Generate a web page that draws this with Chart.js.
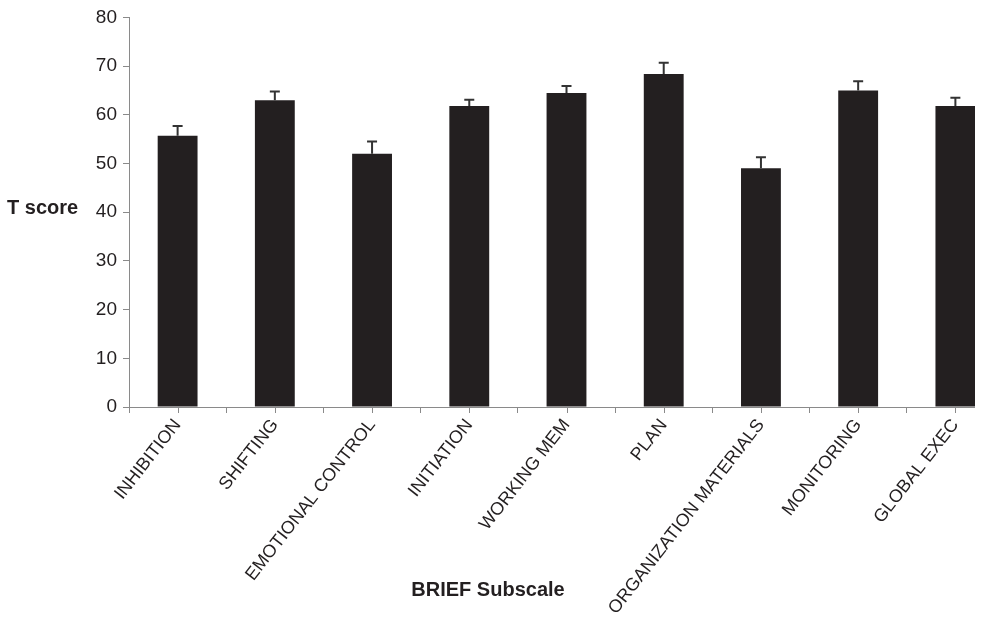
<!DOCTYPE html>
<html><head><meta charset="utf-8">
<script src="https://cdn.jsdelivr.net/npm/chart.js@4.4.1/dist/chart.umd.min.js"></script>
<style>
html,body{margin:0;padding:0;background:#fff;overflow:hidden;}
#wrap{position:absolute;left:0;top:0;width:975px;height:619px;overflow:hidden;background:#fff;}
canvas{display:block;}
</style></head><body>
<div id="wrap"><canvas id="c" width="1004" height="619"></canvas></div>
<script>
const categories = ['INHIBITION','SHIFTING','EMOTIONAL CONTROL','INITIATION','WORKING MEM','PLAN','ORGANIZATION MATERIALS','MONITORING','GLOBAL EXEC'];
const tScores = [55.7, 63.0, 52.0, 61.8, 64.5, 68.4, 49.0, 65.0, 61.8];
const errorUp = [2.0, 1.8, 2.5, 1.3, 1.4, 2.3, 2.3, 1.9, 1.7];
const yTickValues = [0, 10, 20, 30, 40, 50, 60, 70, 80];
const yTitle = 'T score';
const xTitle = 'BRIEF Subscale';

const TEXT = '#231f20';
const AXIS = '#8a8a8a';
const FONT = "'Liberation Sans', Arial, sans-serif";

const errorBarPlugin = {
  id: 'errorBars',
  afterDatasetsDraw(chart) {
    const ctx = chart.ctx, y = chart.scales.y;
    const meta = chart.getDatasetMeta(0);
    ctx.save();
    ctx.strokeStyle = '#333';
    ctx.lineWidth = 2;
    meta.data.forEach((bar, i) => {
      const yb = y.getPixelForValue(tScores[i]);
      const yt = y.getPixelForValue(tScores[i] + errorUp[i]);
      ctx.beginPath();
      ctx.moveTo(bar.x, yb); ctx.lineTo(bar.x, yt);
      ctx.moveTo(bar.x - 5, yt); ctx.lineTo(bar.x + 5, yt);
      ctx.stroke();
    });
    ctx.restore();
  }
};

const extrasPlugin = {
  id: 'extras',
  afterDraw(chart) {
    const ctx = chart.ctx, x = chart.scales.x, y = chart.scales.y;
    ctx.save();
    ctx.strokeStyle = AXIS; ctx.lineWidth = 1;
    categories.forEach((c, i) => {
      const px = Math.round(x.getPixelForValue(i)) + 0.5;
      ctx.beginPath(); ctx.moveTo(px, x.top); ctx.lineTo(px, x.top + 6); ctx.stroke();
    });
    ctx.fillStyle = TEXT;
    ctx.font = "bold 20px " + FONT;
    ctx.textBaseline = 'middle';
    ctx.textAlign = 'left';
    ctx.fillText(yTitle, 7, y.getPixelForValue(40) - 4);
    ctx.textAlign = 'center';
    ctx.fillText(xTitle, 488, 590);
    ctx.restore();
  }
};

new Chart(document.getElementById('c'), {
  type: 'bar',
  data: {
    labels: categories,
    datasets: [{
      data: tScores,
      backgroundColor: '#231f20',
      borderWidth: 0,
      categoryPercentage: 1.0,
      barPercentage: 0.41
    }]
  },
  options: {
    responsive: false,
    animation: false,
    devicePixelRatio: 1,
    layout: { padding: { top: 15, left: 0, right: 0, bottom: 0 } },
    plugins: { legend: { display: false }, tooltip: { enabled: false } },
    scales: {
      y: {
        min: 0, max: 80,
        afterBuildTicks: s => { s.ticks = yTickValues.map(v => ({ value: v })); },
        afterFit: s => { s.width = 129; },
        ticks: { color: TEXT, font: { family: FONT, size: 19 }, padding: 6 },
        grid: { drawOnChartArea: false, drawTicks: true, tickLength: 6, color: AXIS },
        border: { color: AXIS, width: 1 }
      },
      x: {
        offset: true,
        afterFit: s => { s.height = 212; },
        ticks: { color: TEXT, font: { family: FONT, size: 18 }, minRotation: 52, maxRotation: 52, autoSkip: false, padding: 2 },
        grid: { offset: true, drawOnChartArea: false, drawTicks: true, tickLength: 6, color: AXIS },
        border: { color: AXIS, width: 1 }
      }
    }
  },
  plugins: [errorBarPlugin, extrasPlugin]
});
</script>
</body></html>
